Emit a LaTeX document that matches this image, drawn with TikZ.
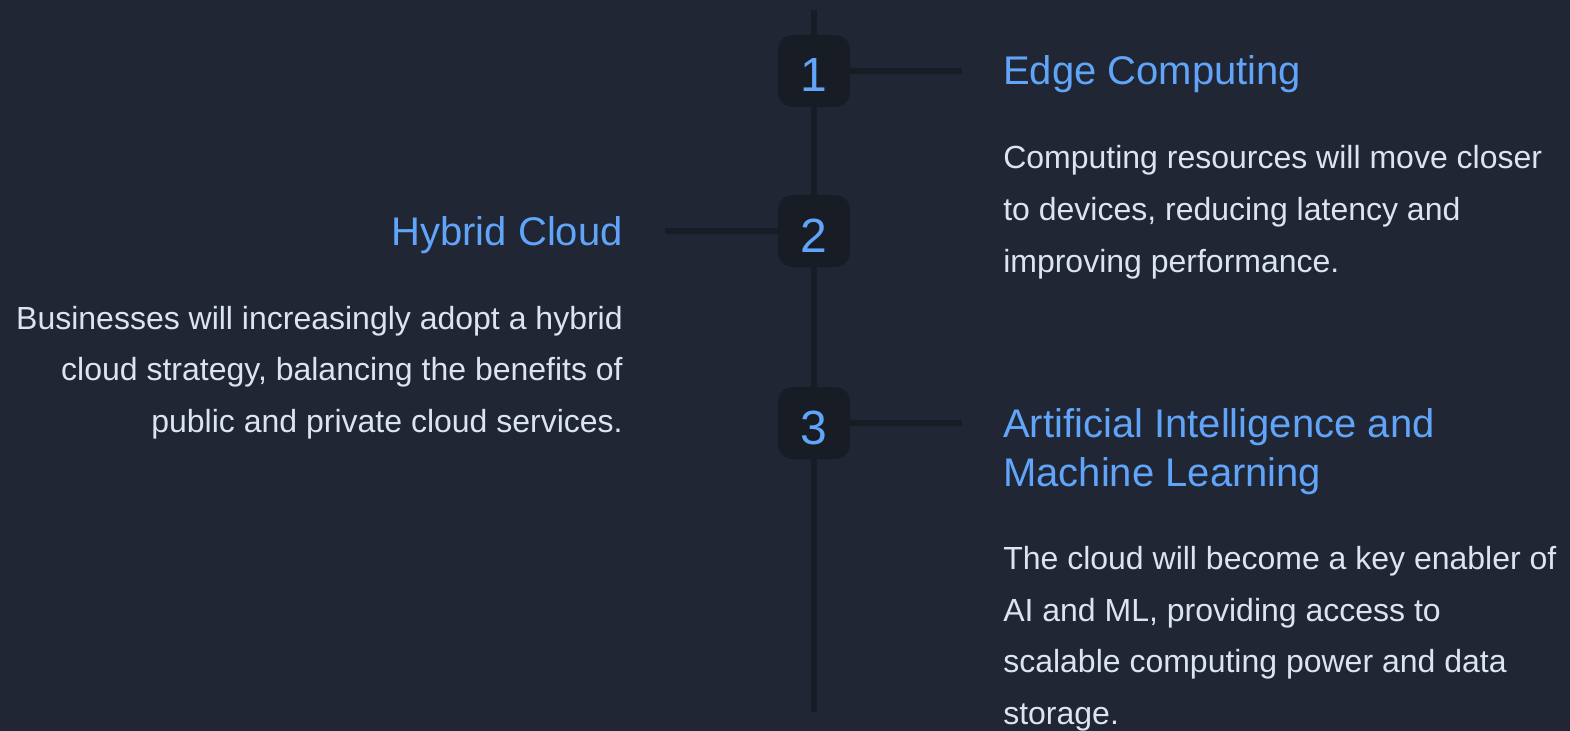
\documentclass[tikz,border=0pt]{standalone}
\usepackage{fontspec}
\setmainfont{Liberation Sans}
\definecolor{bgc}{HTML}{202633}
\definecolor{railc}{HTML}{181C24}
\definecolor{accentc}{HTML}{60A5FA}
\definecolor{bodyc}{HTML}{DCE4EE}
\begin{document}
\begin{tikzpicture}[x=0.75pt,y=-0.75pt,
  numbox/.style={rectangle, rounded corners=11.25pt, fill=railc, minimum width=54pt, minimum height=54pt, inner sep=0pt, text=accentc, font=\fontsize{36}{43}\selectfont, text height=31.5pt, text depth=0pt},
  railline/.style={draw=railc, line width=4.9pt},
  titletext/.style={inner sep=0pt, text=accentc, font=\fontsize{30}{36.75}\selectfont},
  desctext/.style={inner sep=0pt, text=bodyc, font=\fontsize{24}{38.8}\selectfont}]
\fill[bgc] (0,0) rectangle (1570,731);
\useasboundingbox (0,0) rectangle (1570,731);
% rail
\coordinate (top) at (814,10);
\coordinate (bot) at (814,712);
\draw[railline] (top) -- (bot);
% boxes
\node[numbox] (n1) at (814,71) {1};
\node[numbox] (n2) at (814,231) {2};
\node[numbox] (n3) at (814,423) {3};
% branches
\coordinate (e1) at (962,71);
\coordinate (e2) at (665,231);
\coordinate (e3) at (962,423);
\draw[railline] (n1.east) -- (e1);
\draw[railline] (n2.west) -- (e2);
\draw[railline] (n3.east) -- (e3);
% texts (base anchor of a multi-line node = baseline of its last line)
\node[titletext, anchor=base west] (t1) at (1003,84.5) {Edge Computing};
\node[desctext, anchor=base west, align=left] (d1) at (1003,272) {Computing resources will move closer\\to devices, reducing latency and\\improving performance.};
\node[titletext, anchor=base east] (t2) at (623,245) {Hybrid Cloud};
\node[desctext, anchor=base east, align=right] (d2) at (623,432.5) {Businesses will increasingly adopt a hybrid\\cloud strategy, balancing the benefits of\\public and private cloud services.};
\node[titletext, anchor=base west, align=left] (t3) at (1003,486) {Artificial Intelligence and\\Machine Learning};
\node[desctext, anchor=base west, align=left] (d3) at (1003,724.5) {The cloud will become a key enabler of\\AI and ML, providing access to\\scalable computing power and data\\storage.};
\end{tikzpicture}
\end{document}
